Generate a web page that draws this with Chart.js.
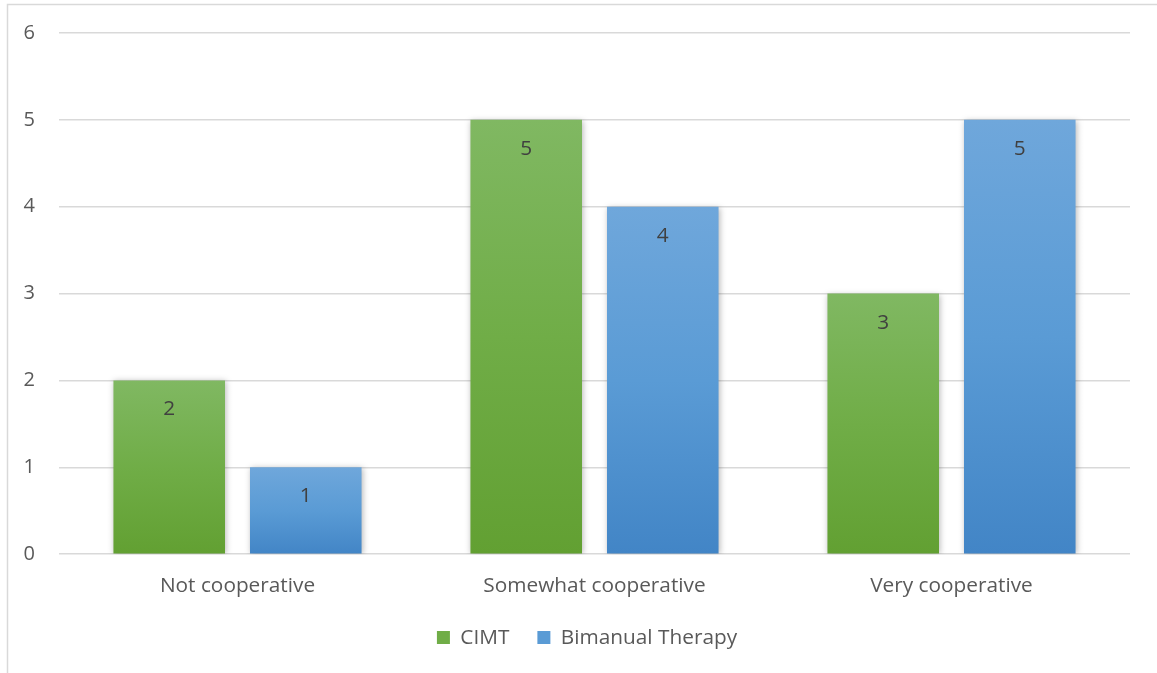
<!DOCTYPE html>
<html>
<head>
<meta charset="utf-8">
<script src="https://cdn.jsdelivr.net/npm/chart.js@4/dist/chart.umd.min.js"></script>
<style>
  html, body { margin: 0; padding: 0; background: #ffffff; }
  #wrap { position: relative; width: 1157px; height: 673px; }
</style>
</head>
<body>
<div id="wrap"><canvas id="chart" width="1157" height="673"></canvas></div>
<script>
const categories = ['Not cooperative', 'Somewhat cooperative', 'Very cooperative'];
const cimtValues = [2, 5, 3];
const bimanualValues = [1, 4, 5];
const yTicks = [0, 1, 2, 3, 4, 5, 6];

const FONT = '"Open Sans", "Liberation Sans", sans-serif';
const FONT_SIZE = 20;
const LABEL_SIZE = 20.8;
const LEGEND_SHIFT = 22;

// vertical gradient spanning each bar from its top to the zero baseline
function barGradient(top, mid, bottom) {
  return function (ctx) {
    const chart = ctx.chart;
    if (!chart.chartArea || ctx.raw === undefined) return mid;
    const y = chart.scales.y;
    const y0 = y.getPixelForValue(ctx.raw);
    const y1 = y.getPixelForValue(0);
    if (!isFinite(y0) || !isFinite(y1) || y0 === y1) return mid;
    const g = chart.ctx.createLinearGradient(0, y0, 0, y1);
    g.addColorStop(0, top);
    g.addColorStop(0.5, mid);
    g.addColorStop(1, bottom);
    return g;
  };
}

// frame around the chart, soft shadow under the bars, legend offset
const framePlugin = {
  id: 'frame',
  afterLayout(chart) {
    if (chart.legend) {
      chart.legend.left += LEGEND_SHIFT;
      chart.legend.right += LEGEND_SHIFT;
    }
  },
  beforeDraw(chart) {
    const c = chart.ctx;
    c.save();
    c.fillStyle = '#ffffff';
    c.fillRect(0, 0, chart.width, chart.height);
    c.strokeStyle = '#d9d9d9';
    c.lineWidth = 1.5;
    c.strokeRect(7.5, 4.5, chart.width + 20, chart.height + 20);
    c.restore();
  },
  beforeDatasetsDraw(chart) {
    const c = chart.ctx;
    c.save();
    c.shadowColor = 'rgba(0,0,0,0.28)';
    c.shadowBlur = 6;
    c.shadowOffsetX = 1;
    c.shadowOffsetY = 1;
  },
  afterDatasetsDraw(chart) {
    chart.ctx.restore();
  }
};

// value labels inside the top of each bar
const valueLabels = {
  id: 'valueLabels',
  afterDatasetsDraw(chart) {
    const c = chart.ctx;
    c.save();
    c.font = LABEL_SIZE + 'px ' + FONT;
    c.fillStyle = '#404040';
    c.textAlign = 'center';
    c.textBaseline = 'middle';
    chart.data.datasets.forEach((ds, i) => {
      chart.getDatasetMeta(i).data.forEach((bar, j) => {
        c.fillText(String(ds.data[j]), bar.x, bar.y + 29);
      });
    });
    c.restore();
  }
};

new Chart(document.getElementById('chart'), {
  type: 'bar',
  data: {
    labels: categories,
    datasets: [
      {
        label: 'CIMT',
        data: cimtValues,
        backgroundColor: barGradient('#80b862', '#70ad47', '#62a032'),
        borderWidth: 0
      },
      {
        label: 'Bimanual Therapy',
        data: bimanualValues,
        backgroundColor: barGradient('#6fa7db', '#5a9bd5', '#4285c6'),
        borderWidth: 0
      }
    ]
  },
  options: {
    responsive: false,
    animation: false,
    devicePixelRatio: 1,
    categoryPercentage: 0.765,
    barPercentage: 0.817,
    layout: { padding: { top: 33, right: 27, left: 0, bottom: 15 } },
    plugins: {
      tooltip: { enabled: false },
      legend: {
        position: 'bottom',
        labels: {
          font: { family: FONT, size: LABEL_SIZE },
          color: '#595959',
          boxWidth: 13,
          boxHeight: 13,
          padding: 28,
          generateLabels(chart) {
            const fills = ['#70ad47', '#5a9bd5'];
            return chart.data.datasets.map((ds, i) => ({
              text: ds.label,
              fillStyle: fills[i],
              strokeStyle: fills[i],
              lineWidth: 0,
              fontColor: '#595959',
              datasetIndex: i
            }));
          }
        }
      }
    },
    scales: {
      x: {
        grid: { display: false, drawTicks: false },
        border: { display: false },
        ticks: {
          font: { family: FONT, size: LABEL_SIZE },
          color: '#595959',
          padding: 19
        },
        afterFit(scale) { scale.height = 45; }
      },
      y: {
        min: 0,
        max: 6,
        afterBuildTicks(scale) { scale.ticks = yTicks.map(v => ({ value: v })); },
        grid: { color: '#d9d9d9', lineWidth: 1.5, drawTicks: false },
        border: { display: false },
        ticks: {
          font: { family: FONT, size: FONT_SIZE },
          color: '#595959',
          padding: 24
        },
        afterFit(scale) {
          scale.width = 59;
          scale.paddingTop = 0;
          scale.paddingBottom = 0;
        }
      }
    }
  },
  plugins: [framePlugin, valueLabels]
});
</script>
</body>
</html>
